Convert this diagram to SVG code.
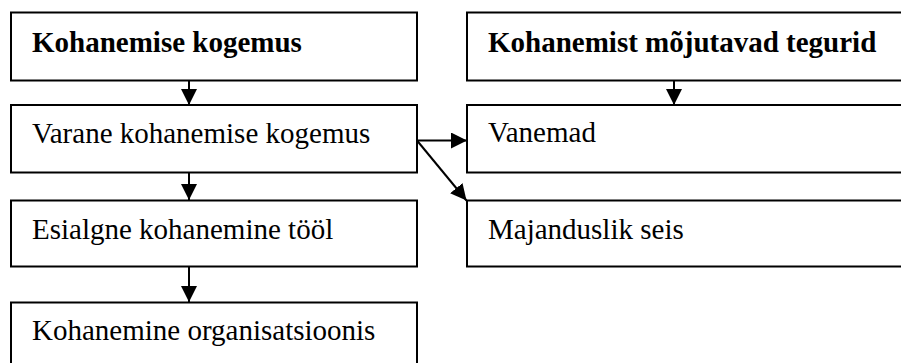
<svg xmlns="http://www.w3.org/2000/svg" width="901" height="363" viewBox="0 0 901 363">
  <style>
    .box { fill: #ffffff; stroke: #000000; stroke-width: 2; }
    .lbl { font-family: "Liberation Serif", "Times New Roman", serif; font-size: 29px; fill: #000000; }
    .bold { font-weight: bold; }
    .conn { stroke: #000000; stroke-width: 2; fill: none; }
  </style>
  <defs>
    <marker id="arrow" markerUnits="userSpaceOnUse" markerWidth="16" markerHeight="16" viewBox="0 0 15 15" refX="15" refY="7.5" orient="auto">
      <path d="M0,0 L15,7.5 L0,15 z" fill="#000000"/>
    </marker>
  </defs>

  <rect width="901" height="363" fill="#ffffff"/>

  <g id="connectors">
    <line class="conn" x1="189" y1="81" x2="189" y2="105" marker-end="url(#arrow)"/>
    <line class="conn" x1="189" y1="173" x2="189" y2="200" marker-end="url(#arrow)"/>
    <line class="conn" x1="189" y1="267" x2="189" y2="302" marker-end="url(#arrow)"/>
    <line class="conn" x1="674" y1="81" x2="674" y2="105" marker-end="url(#arrow)"/>
    <line class="conn" x1="417" y1="140.5" x2="467" y2="140.5" marker-end="url(#arrow)"/>
    <line class="conn" x1="417" y1="140.5" x2="466.5" y2="200.5" marker-end="url(#arrow)"/>
  </g>

  <g id="kohanemise-kogemus">
    <rect class="box" x="11" y="12.5" width="406" height="68"/>
    <text class="lbl bold" x="32" y="52">Kohanemise kogemus</text>
  </g>
  <g id="varane-kohanemise-kogemus">
    <rect class="box" x="11" y="105" width="406" height="67.5"/>
    <text class="lbl" x="32" y="143">Varane kohanemise kogemus</text>
  </g>
  <g id="esialgne-kohanemine">
    <rect class="box" x="11" y="200.5" width="406" height="66"/>
    <text class="lbl" x="32" y="238.5">Esialgne kohanemine tööl</text>
  </g>
  <g id="kohanemine-organisatsioonis">
    <rect class="box" x="11" y="302.5" width="406" height="80"/>
    <text class="lbl" x="32" y="340">Kohanemine organisatsioonis</text>
  </g>

  <g id="mojutavad-tegurid">
    <rect class="box" x="467" y="12.5" width="450" height="68"/>
    <text class="lbl bold" x="488" y="52">Kohanemist mõjutavad tegurid</text>
  </g>
  <g id="vanemad">
    <rect class="box" x="467" y="105" width="450" height="67.5"/>
    <text class="lbl" x="488" y="142">Vanemad</text>
  </g>
  <g id="majanduslik-seis">
    <rect class="box" x="467" y="200.5" width="450" height="66"/>
    <text class="lbl" x="488" y="239">Majanduslik seis</text>
  </g>
</svg>
